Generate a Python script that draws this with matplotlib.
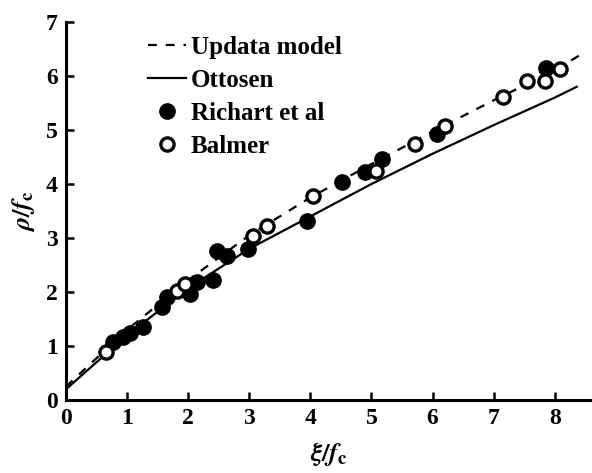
import matplotlib
matplotlib.use("Agg")
from matplotlib import pyplot as plt

plt.rcParams['font.family'] = ['Liberation Serif', 'DejaVu Serif']
plt.rcParams['font.weight'] = 'bold'
plt.rcParams['mathtext.fontset'] = 'stix'

# Updata model (dashed)
model_x = [0.0, 1.0, 2.0, 3.0, 4.0, 5.0, 6.0, 7.0, 8.0, 8.4]
model_y = [0.25, 1.3, 2.22, 3.05, 3.75, 4.37, 4.97, 5.55, 6.1, 6.38]

# Ottosen (solid)
ottosen_x = [0.0, 1.0, 2.0, 3.0, 4.0, 5.0, 6.0, 7.0, 8.0, 8.36]
ottosen_y = [0.2, 1.2, 2.07, 2.8, 3.4, 4.0, 4.56, 5.09, 5.6, 5.8]

# Richart et al (filled)
richart_x = [0.77, 0.93, 1.05, 1.26, 1.57, 1.65, 2.03, 2.14, 2.41, 2.47, 2.63,
             2.98, 3.94, 4.52, 4.89, 5.17, 6.07, 7.86]
richart_y = [1.08, 1.17, 1.25, 1.36, 1.73, 1.9, 1.96, 2.18, 2.23, 2.76, 2.67,
             2.79, 3.31, 4.04, 4.23, 4.47, 4.93, 6.15]

# Balmer (open)
balmer_x = [0.65, 1.82, 1.95, 3.06, 3.29, 4.04, 5.07, 5.71, 6.2, 7.15, 7.54, 7.84, 8.08]
balmer_y = [0.88, 2.01, 2.14, 3.04, 3.22, 3.78, 4.25, 4.75, 5.08, 5.62, 5.9, 5.9, 6.13]

fig = plt.figure(figsize=(5.92, 4.73), dpi=100)
ax = fig.add_axes([0.1115, 0.1543, 0.8885, 0.7992])

ax.plot(model_x, model_y, color='black', lw=1.6, dashes=(4, 4), label='Updata model')
ax.plot(ottosen_x, ottosen_y, color='black', lw=1.6, label='Ottosen')
ax.plot(richart_x, richart_y, 'o', color='black', ms=11, label='Richart et al')
ax.plot(balmer_x, balmer_y, 'o', mfc='white', mec='black', mew=2.4, ms=9.5, label='Balmer')

ax.set_xlim(0, 8.61)
ax.set_ylim(0, 7)
ax.set_xticks(range(0, 9))
ax.set_yticks(range(0, 8))
ax.spines['top'].set_visible(False)
ax.spines['right'].set_visible(False)
ax.spines['left'].set_linewidth(2.2)
ax.spines['bottom'].set_linewidth(2.2)
ax.tick_params(direction='in', length=6, width=1.8, labelsize=17, pad=6)

ax.set_xlabel(r'$\xi/f_{\rm c}$', fontsize=19, labelpad=8)
ax.set_ylabel(r'$\rho/f_{\rm c}$', fontsize=19, labelpad=6)

ax.legend(loc='upper left', bbox_to_anchor=(0.114, 1.022), frameon=False,
          fontsize=18, handlelength=1.5, handletextpad=0.2, labelspacing=0.4)

fig.savefig('out.png', dpi=100)
